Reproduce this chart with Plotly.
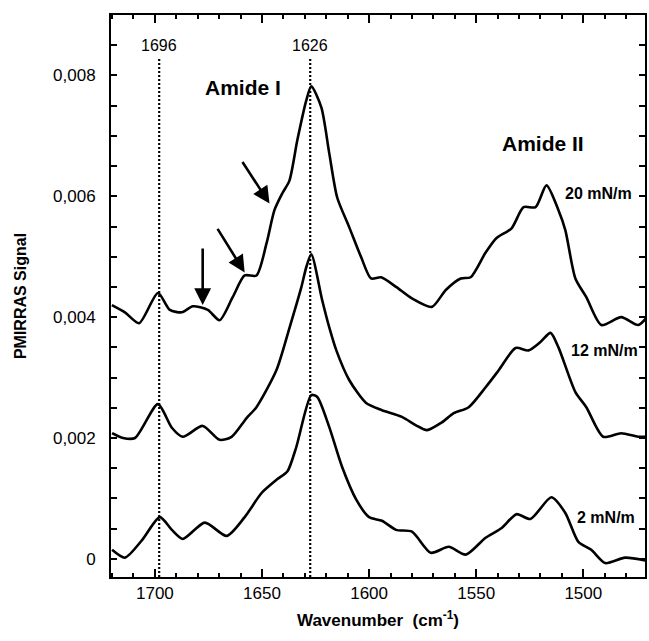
import plotly.graph_objects as go

# ---- data (wavenumber, PMIRRAS signal) ----
wn_20 = [1720.1, 1714.0, 1707.4, 1698.6, 1693.0, 1687.4, 1682.3, 1675.3, 1669.8, 1663.7,
         1658.1, 1652.6, 1647.9, 1644.2, 1640.5, 1637.2, 1633.5, 1629.3, 1627.0, 1622.3,
         1618.6, 1614.9, 1609.3, 1603.7, 1599.1, 1594.4, 1587.4, 1580.0, 1570.7, 1564.2,
         1557.2, 1552.6, 1545.6, 1540.5, 1533.5, 1527.9, 1522.3, 1517.2, 1511.6, 1508.4,
         1503.7, 1498.6, 1491.6, 1482.3, 1474.4, 1470.7]
sig_20 = [0.00420, 0.00408, 0.00390, 0.00440, 0.00412, 0.00408, 0.00418, 0.00412, 0.00395, 0.00433,
          0.00469, 0.00469, 0.00522, 0.00577, 0.00605, 0.00626, 0.00693, 0.00759, 0.00782, 0.00747,
          0.00671, 0.00598, 0.00549, 0.00499, 0.00464, 0.00466, 0.00450, 0.00431, 0.00417, 0.00445,
          0.00464, 0.00466, 0.00507, 0.00531, 0.00547, 0.00582, 0.00582, 0.00618, 0.00577, 0.00544,
          0.00464, 0.00433, 0.00387, 0.00400, 0.00387, 0.00398]

wn_12 = [1720.0, 1714.9, 1709.3, 1698.6, 1692.1, 1687.0, 1677.7, 1669.8, 1664.2, 1657.2,
         1652.6, 1643.3, 1637.2, 1631.6, 1629.3, 1627.0, 1621.9, 1618.6, 1615.3, 1609.3,
         1601.4, 1594.0, 1584.7, 1578.1, 1573.0, 1566.0, 1560.5, 1553.5, 1545.6, 1539.5,
         1531.6, 1525.6, 1520.0, 1515.3, 1511.6, 1503.7, 1498.6, 1490.7, 1482.3, 1474.4,
         1470.7]
sig_12 = [0.00208, 0.00200, 0.00200, 0.00256, 0.00217, 0.00202, 0.00220, 0.00197, 0.00202, 0.00233,
          0.00251, 0.00312, 0.00382, 0.00450, 0.00483, 0.00504, 0.00428, 0.00383, 0.00345, 0.00296,
          0.00258, 0.00246, 0.00235, 0.00221, 0.00213, 0.00226, 0.00241, 0.00251, 0.00284, 0.00312,
          0.00349, 0.00345, 0.00359, 0.00374, 0.00350, 0.00276, 0.00251, 0.00202, 0.00208, 0.00202,
          0.00202]

wn_2 = [1720.0, 1714.0, 1706.0, 1697.7, 1692.1, 1687.0, 1676.7, 1666.5, 1658.1, 1650.2,
        1642.8, 1638.1, 1634.0, 1627.0, 1624.2, 1618.6, 1612.6, 1606.0, 1600.0, 1594.0,
        1587.4, 1580.0, 1571.2, 1562.8, 1554.9, 1545.6, 1538.1, 1531.2, 1524.7, 1514.9,
        1508.4, 1502.3, 1496.3, 1489.8, 1480.5, 1470.7]
sig_2 = [0.00015, 0.00002, 0.00031, 0.00069, 0.00048, 0.00033, 0.00060, 0.00038, 0.00069, 0.00109,
         0.00132, 0.00145, 0.00185, 0.00271, 0.00268, 0.00218, 0.00152, 0.00098, 0.00069, 0.00063,
         0.00048, 0.00045, 0.00010, 0.00020, 0.00007, 0.00035, 0.00051, 0.00074, 0.00066, 0.00102,
         0.00076, 0.00028, 0.00015, -0.00007, 0.00002, -0.00003]

series_names = ["20 mN/m", "12 mN/m", "2 mN/m"]
ytick_vals = [0, 0.002, 0.004, 0.006, 0.008]
ytick_text = ["0", "0,002", "0,004", "0,006", "0,008"]
xtick_vals = [1700, 1650, 1600, 1550, 1500]
xtick_text = ["1700", "1650", "1600", "1550", "1500"]

# reference lines (drawn position, label)
ref_lines_x = [1698.0, 1627.5]
ref_lines_label = ["1696", "1626"]

FONT = "Liberation Sans, Arial, sans-serif"

fig = go.Figure()
for wn, sig, name in [(wn_20, sig_20, series_names[0]),
                      (wn_12, sig_12, series_names[1]),
                      (wn_2, sig_2, series_names[2])]:
    fig.add_trace(go.Scatter(x=wn, y=sig, mode="lines", name=name,
                             line=dict(color="black", width=2.6, shape="spline", smoothing=0.7),
                             showlegend=False, hoverinfo="skip"))

shapes = []
annotations = []
for xv, lab in zip(ref_lines_x, ref_lines_label):
    shapes.append(dict(type="line", xref="x", yref="y", x0=xv, x1=xv, y0=-0.0003, y1=0.00828,
                       line=dict(color="black", width=2.2, dash="2px,2px")))
    annotations.append(dict(x=xv, y=0.0085, xref="x", yref="y", text=lab, showarrow=False,
                            font=dict(family=FONT, size=16, color="black")))

annotations += [
    dict(x=1659.0, y=0.0078, xref="x", yref="y", text="<b>Amide I</b>", showarrow=False,
         font=dict(family=FONT, size=21, color="black")),
    dict(x=1518.6, y=0.00688, xref="x", yref="y", text="<b>Amide II</b>", showarrow=False,
         font=dict(family=FONT, size=21, color="black")),
    dict(x=1493.0, y=0.00605, xref="x", yref="y", text="<b>20 mN/m</b>", showarrow=False,
         font=dict(family=FONT, size=16, color="black")),
    dict(x=1490.2, y=0.00345, xref="x", yref="y", text="<b>12 mN/m</b>", showarrow=False,
         font=dict(family=FONT, size=16, color="black")),
    dict(x=1489.3, y=0.00069, xref="x", yref="y", text="<b>2 mN/m</b>", showarrow=False,
         font=dict(family=FONT, size=16, color="black")),
]

# arrows (tip position, tail offset in px)
for tx, ty, ax, ay in [(1677.7, 0.00420, 0, -58), (1658.1, 0.00474, -28, -45), (1646.5, 0.00588, -28, -43)]:
    annotations.append(dict(x=tx, y=ty, xref="x", yref="y", ax=ax, ay=ay, text="",
                            showarrow=True, arrowhead=2, arrowsize=1.3, arrowwidth=2.6,
                            arrowcolor="black", standoff=0))

axis_common = dict(showgrid=False, zeroline=False, showline=True, linecolor="black", linewidth=2,
                   mirror="allticks", ticks="inside", tickcolor="black", tickwidth=1.5)

fig.update_layout(
    width=649, height=641,
    margin=dict(l=111, r=2, t=15, b=64),
    paper_bgcolor="white", plot_bgcolor="white",
    font=dict(family=FONT, color="black"),
    shapes=shapes, annotations=annotations,
    xaxis=dict(range=[1720.5, 1471.2], tickvals=xtick_vals, ticktext=xtick_text, ticklen=8,
               minor=dict(dtick=10, ticks="inside", ticklen=4, tickcolor="black", tickwidth=1.5),
               tickfont=dict(family=FONT, size=17),
               title=dict(text="<b>Wavenumber  (cm<sup>-1</sup>)</b>", font=dict(family=FONT, size=17),
                          standoff=12),
               **axis_common),
    yaxis=dict(range=[-0.0003, 0.009], tickvals=ytick_vals, ticktext=ytick_text, ticklen=6,
               minor=dict(dtick=0.0005, tick0=0, ticks="inside", ticklen=6, tickcolor="black", tickwidth=1.5),
               tickfont=dict(family=FONT, size=17), ticklabelstandoff=10,
               title=dict(text="<b>PMIRRAS Signal</b>", font=dict(family=FONT, size=16), standoff=22),
               **axis_common),
)

fig.write_html("out.html", config={"displayModeBar": False},
               post_script="document.body.style.margin='0';document.body.style.overflow='hidden';")
